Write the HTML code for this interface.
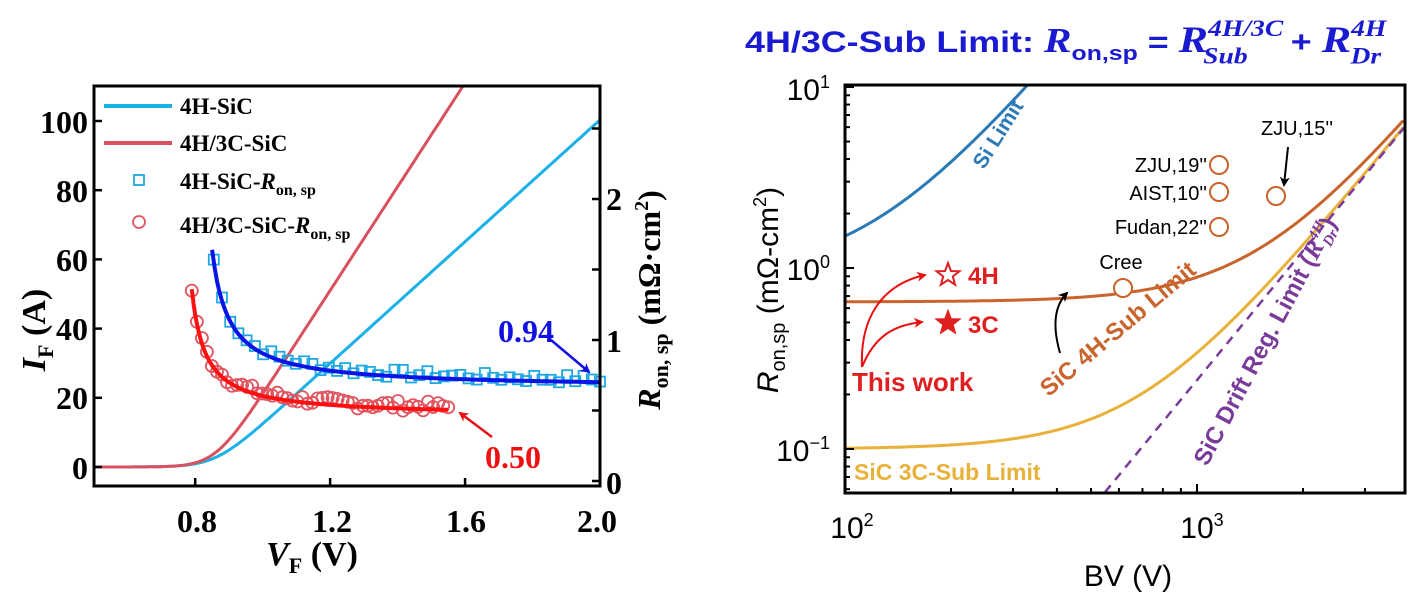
<!DOCTYPE html>
<html><head><meta charset="utf-8"><style>
html,body{margin:0;padding:0;background:#fff;}
svg{display:block;}
.tb{font-family:"Liberation Serif",serif;font-weight:bold;}
.sa{font-family:"Liberation Sans",sans-serif;}
</style></head><body>
<svg id="s" width="1424" height="598" viewBox="0 0 1424 598" xmlns="http://www.w3.org/2000/svg">
<defs>
<marker id="ab" markerWidth="10" markerHeight="10" refX="8" refY="5" orient="auto" markerUnits="userSpaceOnUse"><path d="M0,0 L10,5 L0,10 L3,5z" fill="#1010e0"/></marker>
<marker id="ar" markerWidth="10" markerHeight="10" refX="8" refY="5" orient="auto" markerUnits="userSpaceOnUse"><path d="M0,0 L10,5 L0,10 L3,5z" fill="#e81010"/></marker>
<marker id="ak" markerWidth="10" markerHeight="10" refX="8" refY="5" orient="auto" markerUnits="userSpaceOnUse"><path d="M0,0 L10,5 L0,10 L3,5z" fill="#000"/></marker>
</defs>
<g id="L"></g>
<g id="R"></g>
<g class="tb" font-size="32" text-anchor="end" fill="#000">
<text x="88" y="133">100</text><text x="88" y="202">80</text><text x="88" y="271">60</text><text x="88" y="340">40</text><text x="88" y="409">20</text><text x="88" y="479">0</text>
</g>
<g class="tb" font-size="32" text-anchor="start" fill="#000">
<text x="606" y="494">0</text><text x="606" y="352">1</text><text x="606" y="210">2</text>
</g>
<g class="tb" font-size="32" text-anchor="middle" fill="#000">
<text x="197" y="532">0.8</text><text x="332" y="532">1.2</text><text x="466" y="532">1.6</text><text x="597" y="532">2.0</text>
</g>
<text class="tb" font-size="34" x="312" y="565" text-anchor="middle"><tspan font-style="italic">V</tspan><tspan font-size="22" dy="8">F</tspan><tspan dy="-8"> (V)</tspan></text>
<text class="tb" font-size="34" transform="translate(45,330) rotate(-90)" text-anchor="middle"><tspan font-style="italic">I</tspan><tspan font-size="22" dy="8">F</tspan><tspan dy="-8"> (A)</tspan></text>
<text class="tb" font-size="32" transform="translate(660,300) rotate(-90)" text-anchor="middle"><tspan font-style="italic">R</tspan><tspan font-size="22" dy="8">on, sp</tspan><tspan dy="-8"> (mΩ·cm</tspan><tspan font-size="20" dy="-12">2</tspan><tspan dy="12">)</tspan></text>
<g class="tb" font-size="23" fill="#000">
<text x="180" y="114">4H-SiC</text>
<text x="180" y="151">4H/3C-SiC</text>
<text x="180" y="189">4H-SiC-<tspan font-style="italic">R</tspan><tspan font-size="16" dy="6">on, sp</tspan></text>
<text x="180" y="233">4H/3C-SiC-<tspan font-style="italic">R</tspan><tspan font-size="16" dy="6">on, sp</tspan></text>
</g>
<line x1="104" y1="106" x2="172" y2="106" stroke="#1ab0e8" stroke-width="4"/>
<line x1="104" y1="143" x2="172" y2="143" stroke="#d9505e" stroke-width="4"/>
<rect x="134" y="175" width="10" height="10" fill="none" stroke="#1ea7e0" stroke-width="1.8"/>
<circle cx="139" cy="222" r="6" fill="none" stroke="#e05560" stroke-width="1.8"/>
<text class="tb" font-size="32" x="526" y="342" text-anchor="middle" fill="#1010e0">0.94</text>
<line x1="551" y1="340" x2="589" y2="372" stroke="#1010e0" stroke-width="2.5" marker-end="url(#ab)"/>
<text class="tb" font-size="32" x="513" y="468" text-anchor="middle" fill="#f01010">0.50</text>
<line x1="492" y1="437" x2="460" y2="413" stroke="#e81010" stroke-width="2.5" marker-end="url(#ar)"/>

<text class="sa" font-size="26" font-weight="bold" transform="translate(745,52) scale(1.38,1.15)" x="0" y="0" fill="#1a1ad0">4H/3C-Sub Limit: <tspan font-style="italic" font-family="Liberation Serif" font-size="30">R</tspan><tspan font-size="18" dy="7">on,sp</tspan><tspan dy="-7"> = </tspan><tspan font-style="italic" font-family="Liberation Serif" font-size="32">R</tspan><tspan font-style="italic" font-family="Liberation Serif" font-size="20" dy="-14">4H/3C</tspan><tspan font-style="italic" font-family="Liberation Serif" font-size="20" dx="-58" dy="24">Sub</tspan><tspan dx="24" dy="-10"> + </tspan><tspan font-style="italic" font-family="Liberation Serif" font-size="32">R</tspan><tspan font-style="italic" font-family="Liberation Serif" font-size="20" dy="-14">4H</tspan><tspan font-style="italic" font-family="Liberation Serif" font-size="20" dx="-26" dy="24">Dr</tspan></text>
<g class="sa" font-size="30" fill="#000" text-anchor="end">
<text x="830" y="100">10<tspan font-size="18" dy="-12">1</tspan></text>
<text x="830" y="280">10<tspan font-size="18" dy="-12">0</tspan></text>
<text x="830" y="461">10<tspan font-size="18" dy="-12">−1</tspan></text>
</g>
<g class="sa" font-size="30" fill="#000" text-anchor="middle">
<text x="852" y="538">10<tspan font-size="18" dy="-12">2</tspan></text>
<text x="1202" y="538">10<tspan font-size="18" dy="-12">3</tspan></text>
<text x="1128" y="586">BV (V)</text>
</g>
<text class="sa" font-size="30" transform="translate(778,290) rotate(-90)" text-anchor="middle"><tspan font-style="italic">R</tspan><tspan font-size="20" dy="7">on,sp</tspan><tspan dy="-7"> (mΩ-cm</tspan><tspan font-size="18" dy="-12">2</tspan><tspan dy="12">)</tspan></text>
<text class="sa" font-size="21" font-weight="bold" fill="#2a7ab8" transform="translate(1004,138) rotate(-58)" text-anchor="middle">Si Limit</text>
<text class="sa" font-size="24" font-weight="bold" fill="#c8642c" transform="translate(1123,335) rotate(-40)" text-anchor="middle">SiC 4H-Sub Limit</text>
<text class="sa" font-size="23" font-weight="bold" fill="#e8b23a" x="854" y="480">SiC 3C-Sub Limit</text>
<text class="sa" font-size="24" font-weight="bold" fill="#7a3a9a" transform="translate(1272,345) rotate(-62)" text-anchor="middle">SiC Drift Reg. Limit (<tspan font-family="Liberation Serif" font-style="italic" font-size="26">R</tspan><tspan font-family="Liberation Serif" font-style="italic" font-size="15" dy="-10">4H</tspan><tspan font-family="Liberation Serif" font-style="italic" font-size="15" dx="-18" dy="16">Dr</tspan><tspan dy="-6">)</tspan></text>
<g class="sa" font-size="20" fill="#000">
<text x="1297" y="135" text-anchor="middle">ZJU,15''</text>
<text x="1207" y="172" text-anchor="end">ZJU,19''</text>
<text x="1207" y="200" text-anchor="end">AIST,10''</text>
<text x="1207" y="234" text-anchor="end">Fudan,22''</text>
<text x="1121" y="269" text-anchor="middle">Cree</text>
</g>
<g class="sa" font-weight="bold" fill="#e02020">
<text x="968" y="284" font-size="24">4H</text>
<text x="968" y="333" font-size="24">3C</text>
<text x="852" y="391" font-size="26">This work</text>
</g>
<g fill="none" stroke-width="2">
<circle cx="1219" cy="165" r="9" stroke="#c8642c"/>
<circle cx="1219" cy="192" r="9" stroke="#c8642c"/>
<circle cx="1219" cy="227" r="9" stroke="#c8642c"/>
<circle cx="1276" cy="196" r="9" stroke="#c8642c"/>
<circle cx="1123" cy="288" r="9" stroke="#c8642c" fill="#fff"/>
</g>
<path d="M862,367 C860,320 880,285 925,275" fill="none" stroke="#e81010" stroke-width="2" marker-end="url(#ar)"/>
<path d="M862,367 C875,335 895,325 922,322" fill="none" stroke="#e81010" stroke-width="2" marker-end="url(#ar)"/>
<path d="M1060,353 C1052,325 1055,305 1067,293" fill="none" stroke="#000" stroke-width="2" marker-end="url(#ak)"/>
<line x1="1288" y1="147" x2="1284" y2="185" stroke="#000" stroke-width="2" marker-end="url(#ak)"/>
<path id="st1" d="" fill="#fff" stroke="#e02020" stroke-width="2"/>
<path id="st2" d="" fill="#e02020" stroke="#e02020" stroke-width="1"/>
</svg>
<script>
var NS="http://www.w3.org/2000/svg";
function el(p,t,a){var e=document.createElementNS(NS,t);for(var k in a)e.setAttribute(k,a[k]);p.appendChild(e);return e;}
var L=document.getElementById("L"),R=document.getElementById("R");
function X(v){return 94+(v-0.5)/1.5*506;}
function Y(i){return 467-i*3.46;}
function YR(r){return 481-r*141;}
function sp(v,s,v0,k){return s*k*Math.log(1+Math.exp((v-v0)/k));}
function curve(f,a,b,n,fx,fy,lim){var d="";for(var j=0;j<=n;j++){var v=a+(b-a)*j/n;var y=f(v);if(lim!==undefined&&y>lim)break;d+=(d?"L":"M")+fx(v).toFixed(1)+","+fy(y).toFixed(1);}return d;}
el(L,"path",{d:curve(function(v){return sp(v,88,0.86,0.045);},0.5,2.0,200,X,Y),fill:"none",stroke:"#1ab0e8","stroke-width":3});
el(L,"path",{d:curve(function(v){return sp(v,150,0.86,0.04);},0.5,2.0,300,X,Y,110.5),fill:"none",stroke:"#d9505e","stroke-width":3});
var seed=7;function rnd(){seed=(seed*9301+49297)%233280;return seed/233280;}
function fb(v){return 0.66+0.049/(v-0.8);}
function fr(v){return 0.46+0.036/(v-0.75);}
for(var j=0;j<48;j++){var v=0.855+j*(2.0-0.855)/47;var r=fb(v)+0.02+(rnd()-0.5)*0.06;el(L,"rect",{x:(X(v)-5).toFixed(1),y:(YR(r)-5).toFixed(1),width:10,height:10,fill:"none",stroke:"#1ea7e0","stroke-width":1.8});}
for(var j=0;j<52;j++){var v=0.79+j*(1.55-0.79)/51;var r=fr(v)+0.02+(rnd()-0.5)*0.07;if(j==0)r=1.35;el(L,"circle",{cx:X(v).toFixed(1),cy:YR(r).toFixed(1),r:6,fill:"none",stroke:"#e05560","stroke-width":1.8});}
el(L,"path",{d:curve(fb,0.85,2.0,150,X,YR),fill:"none",stroke:"#0a14e6","stroke-width":4});
el(L,"path",{d:curve(fr,0.79,1.55,150,X,YR),fill:"none",stroke:"#ff1010","stroke-width":4});
el(L,"rect",{x:94,y:86,width:506,height:400,fill:"none",stroke:"#000","stroke-width":3});
[0,20,40,60,80,100].forEach(function(i){el(L,"line",{x1:94,y1:Y(i),x2:102,y2:Y(i),stroke:"#000","stroke-width":2.5});});
[0.8,1.2,1.6].forEach(function(v){el(L,"line",{x1:X(v),y1:486,x2:X(v),y2:478,stroke:"#000","stroke-width":2.5});});
[0,0.5,1,1.5,2,2.5].forEach(function(r){el(L,"line",{x1:600,y1:YR(r),x2:592,y2:YR(r),stroke:"#000","stroke-width":2.5});});
var RL=845,RR=1405,RT=85,RB=493;
function PX(b){return 845+352*Math.log10(b/100);}
function PY(r){return 268-181*Math.log10(r);}
function clipd(f,a,b){var d="";for(var j=0;j<=300;j++){var bv=a*Math.pow(b/a,j/300);var x=PX(bv),y=PY(f(bv));if(y<RT||y>RB||x>RR)continue;d+=(d?"L":"M")+x.toFixed(1)+","+y.toFixed(1);}return d;}
function dr(b){return 0.057*Math.pow(b/545,2.37);}
el(R,"path",{d:clipd(function(b){return 0.9+0.6*Math.pow(b/100,2.3);},100,400),fill:"none",stroke:"#2a7ab8","stroke-width":3});
el(R,"path",{d:clipd(function(b){return 0.1+dr(b);},100,4100),fill:"none",stroke:"#e8b23a","stroke-width":3});
el(R,"path",{d:clipd(function(b){return 0.65+dr(b);},100,4100),fill:"none",stroke:"#c8642c","stroke-width":3});
el(R,"path",{d:clipd(dr,500,4100),fill:"none",stroke:"#7a3a9a","stroke-width":2.5,"stroke-dasharray":"9,7"});
el(R,"rect",{x:RL,y:RT,width:RR-RL,height:RB-RT,fill:"none",stroke:"#000","stroke-width":3});
for(var d=-2;d<=1;d++){for(var m=1;m<10;m++){var y=PY(m*Math.pow(10,d));if(y<RT||y>RB)continue;var len=(m==1)?9:5;el(R,"line",{x1:RL,y1:y,x2:RL+len,y2:y,stroke:"#000","stroke-width":2});}}
for(var d=2;d<=3;d++){for(var m=1;m<10;m++){var x=PX(m*Math.pow(10,d));if(x>RR)continue;var len=(m==1)?9:5;el(R,"line",{x1:x,y1:RB,x2:x,y2:RB-len,stroke:"#000","stroke-width":2});}}
function star(cx,cy,ro,ri){var d="";for(var k=0;k<10;k++){var a=-Math.PI/2+k*Math.PI/5;var r=k%2?ri:ro;d+=(k?"L":"M")+(cx+r*Math.cos(a)).toFixed(1)+","+(cy+r*Math.sin(a)).toFixed(1);}return d+"Z";}
document.getElementById("st1").setAttribute("d",star(948,275,12,5));
document.getElementById("st2").setAttribute("d",star(948,323,13,5.5));
</script>
</body></html>
